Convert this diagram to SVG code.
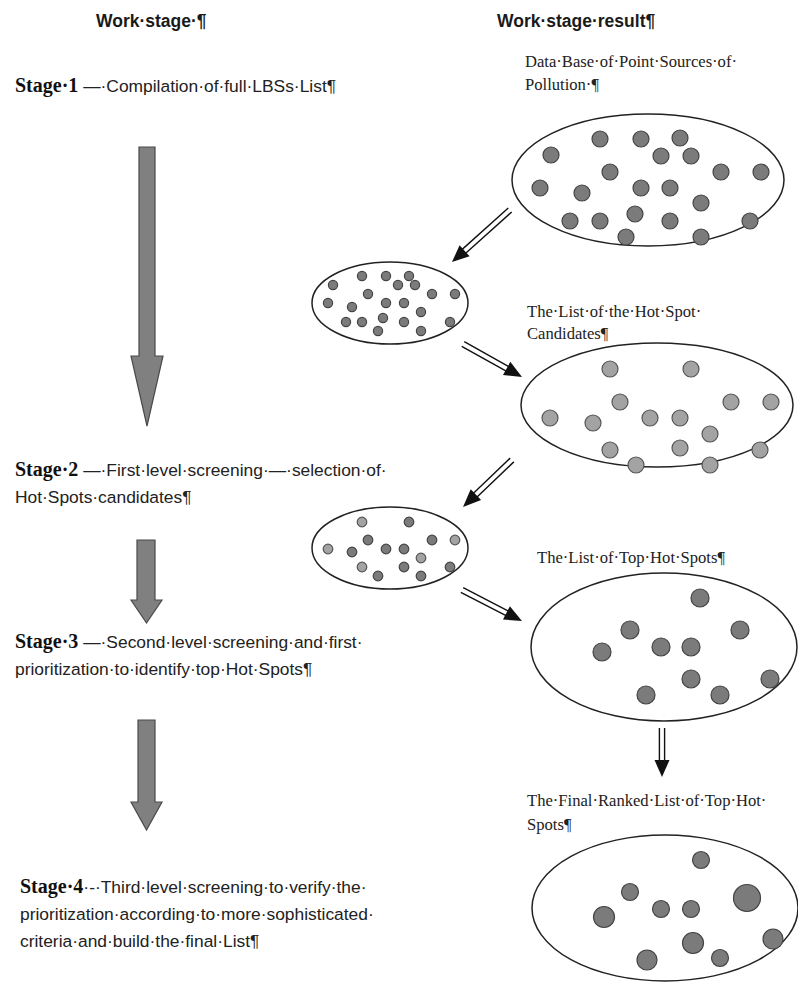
<svg xmlns="http://www.w3.org/2000/svg" width="798" height="983" viewBox="0 0 798 983">
<style>
.h{font-family:"Liberation Sans",Arial,sans-serif;font-weight:bold;font-size:17.5px;fill:#1a1a1a}
.t{font-family:"Liberation Sans",Arial,sans-serif;font-size:17.4px;fill:#222}
.b{font-family:"Liberation Serif","Times New Roman",serif;font-weight:bold;font-size:20px;fill:#111}
.r{font-family:"Liberation Serif","Times New Roman",serif;font-size:16.6px;fill:#222}
.ell{fill:#fff;stroke:#222;stroke-width:1.5}
.d1{fill:#7b7b7b;stroke:#444;stroke-width:1.2}
.d2{fill:#a3a3a3;stroke:#555;stroke-width:1.2}
.big{fill:#808080;stroke:#4a4a4a;stroke-width:1.2}
.dl{stroke:#111;stroke-width:1.4;fill:none}
.hd{fill:#111}
</style>
<rect width="798" height="983" fill="#fff"/>

<g id="headers">
<text class="h" x="96" y="27">Work·stage·¶</text>
<text class="h" x="497" y="27">Work·stage·result¶</text>
</g>

<g id="stage1"><text x="15" y="92"><tspan class="b">Stage·1</tspan><tspan class="t"> —·Compilation·of·full·LBSs·List¶</tspan></text></g>
<g id="stage2">
<text x="15" y="476"><tspan class="b">Stage·2</tspan><tspan class="t"> —·First·level·screening·—·selection·of·</tspan></text>
<text class="t" x="15" y="503">Hot·Spots·candidates¶</text>
</g>
<g id="stage3">
<text x="15" y="648"><tspan class="b">Stage·3</tspan><tspan class="t"> —·Second·level·screening·and·first·</tspan></text>
<text class="t" x="15" y="675">prioritization·to·identify·top·Hot·Spots¶</text>
</g>
<g id="stage4">
<text x="20" y="893"><tspan class="b">Stage·4</tspan><tspan class="t">·-·Third·level·screening·to·verify·the·</tspan></text>
<text class="t" x="20" y="920">prioritization·according·to·more·sophisticated·</text>
<text class="t" x="20" y="947">criteria·and·build·the·final·List¶</text>
</g>

<g id="connectors">
<polygon class="big" points="139,147 155,147 155,356 163,356 147,426 131,356 139,356"/>
<polygon class="big" points="137,540 155,540 155,600 162,600 146.5,623 131,600 137,600"/>
<polygon class="big" points="138,720 155,720 155,802 162,802 146.5,830 131,802 138,802"/>
<g transform="translate(510,210) rotate(138.1)"><path class="dl" d="M0,-2.6H63M0,2.6H63"/><polygon class="hd" points="61,-7.5 77.9,0 61,7.5"/></g>
<g transform="translate(463,344) rotate(29.2)"><path class="dl" d="M0,-2.6H52M0,2.6H52"/><polygon class="hd" points="50,-7.5 67.6,0 50,7.5"/></g>
<g transform="translate(512,460) rotate(136.2)"><path class="dl" d="M0,-2.6H52M0,2.6H52"/><polygon class="hd" points="50,-7.5 67.9,0 50,7.5"/></g>
<g transform="translate(462,590) rotate(27.3)"><path class="dl" d="M0,-2.6H52M0,2.6H52"/><polygon class="hd" points="50,-7.5 67.5,0 50,7.5"/></g>
<g transform="translate(662,728) rotate(90)"><path class="dl" d="M0,-2.6H34M0,2.6H34"/><polygon class="hd" points="32,-7.5 49,0 32,7.5"/></g>
</g>

<g id="result1">
<text class="r" x="525" y="67">Data·Base·of·Point·Sources·of·</text>
<text class="r" x="525" y="90">Pollution·¶</text>
<ellipse class="ell" cx="648" cy="180" rx="136" ry="66"/>
<g class="d1">
<circle cx="600" cy="139" r="8"/><circle cx="641" cy="139" r="8"/><circle cx="680" cy="138" r="8"/>
<circle cx="551" cy="155" r="8"/><circle cx="661" cy="156" r="8"/><circle cx="691" cy="156" r="8"/>
<circle cx="610" cy="172" r="8"/><circle cx="721" cy="172" r="8"/><circle cx="761" cy="172" r="8"/>
<circle cx="540" cy="188" r="8"/><circle cx="582" cy="193" r="8"/><circle cx="641" cy="188" r="8"/>
<circle cx="670" cy="188" r="8"/><circle cx="701" cy="203" r="8"/><circle cx="570" cy="221" r="8"/>
<circle cx="600" cy="221" r="8"/><circle cx="635" cy="214" r="8"/><circle cx="670" cy="221" r="8"/>
<circle cx="750" cy="221" r="8"/><circle cx="626" cy="237" r="8"/><circle cx="701" cy="237" r="8"/>
</g>
</g>

<g id="sample1">
<ellipse class="ell" cx="390" cy="303" rx="78" ry="41"/>
<g class="d1">
<circle cx="333" cy="285" r="4.6"/><circle cx="362" cy="276" r="4.6"/><circle cx="386" cy="276" r="4.6"/>
<circle cx="409" cy="276" r="4.6"/><circle cx="398" cy="285" r="4.6"/><circle cx="415" cy="285" r="4.6"/>
<circle cx="368" cy="294" r="4.6"/><circle cx="432" cy="294" r="4.6"/><circle cx="455" cy="294" r="4.6"/>
<circle cx="328" cy="303" r="4.6"/><circle cx="352" cy="307" r="4.6"/><circle cx="386" cy="303" r="4.6"/>
<circle cx="404" cy="303" r="4.6"/><circle cx="421" cy="312" r="4.6"/><circle cx="346" cy="322" r="4.6"/>
<circle cx="362" cy="322" r="4.6"/><circle cx="383" cy="318" r="4.6"/><circle cx="404" cy="322" r="4.6"/>
<circle cx="450" cy="322" r="4.6"/><circle cx="378" cy="331" r="4.6"/><circle cx="421" cy="331" r="4.6"/>
</g>
</g>

<g id="result2">
<text class="r" x="527" y="317">The·List·of·the·Hot·Spot·</text>
<text class="r" x="527" y="339">Candidates¶</text>
<ellipse class="ell" cx="657" cy="405" rx="136" ry="62"/>
<g class="d2">
<circle cx="610" cy="369" r="8"/><circle cx="691" cy="369" r="8"/><circle cx="620" cy="402" r="8"/>
<circle cx="731" cy="402" r="8"/><circle cx="771" cy="402" r="8"/><circle cx="550" cy="418" r="8"/>
<circle cx="593" cy="423" r="8"/><circle cx="650" cy="418" r="8"/><circle cx="680" cy="418" r="8"/>
<circle cx="710" cy="434" r="8"/><circle cx="610" cy="450" r="8"/><circle cx="680" cy="448" r="8"/>
<circle cx="760" cy="450" r="8"/><circle cx="636" cy="465" r="8"/><circle cx="710" cy="465" r="8"/>
</g>
</g>

<g id="sample2">
<ellipse class="ell" cx="390" cy="548" rx="78" ry="41"/>
<g class="d2">
<circle cx="362" cy="522" r="4.8"/><circle cx="455" cy="540" r="4.8"/><circle cx="328" cy="549" r="4.8"/>
<circle cx="421" cy="558" r="4.8"/><circle cx="362" cy="567" r="4.8"/>
</g>
<g class="d1">
<circle cx="409" cy="522" r="4.8"/><circle cx="368" cy="540" r="4.8"/><circle cx="432" cy="540" r="4.8"/>
<circle cx="352" cy="552" r="4.8"/><circle cx="386" cy="549" r="4.8"/><circle cx="404" cy="549" r="4.8"/>
<circle cx="404" cy="567" r="4.8"/><circle cx="450" cy="567" r="4.8"/><circle cx="378" cy="576" r="4.8"/>
<circle cx="421" cy="576" r="4.8"/>
</g>
</g>

<g id="result3">
<text class="r" x="537" y="563">The·List·of·Top·Hot·Spots¶</text>
<ellipse class="ell" cx="664" cy="647" rx="133" ry="74"/>
<g class="d1">
<circle cx="700" cy="598" r="9"/><circle cx="630" cy="630" r="9"/><circle cx="740" cy="630" r="9"/>
<circle cx="602" cy="652" r="9"/><circle cx="661" cy="647" r="9"/><circle cx="691" cy="647" r="9"/>
<circle cx="691" cy="679" r="9"/><circle cx="770" cy="679" r="9"/><circle cx="646" cy="695" r="9"/>
<circle cx="720" cy="695" r="9"/>
</g>
</g>

<g id="result4">
<text class="r" x="527" y="806">The·Final·Ranked·List·of·Top·Hot·</text>
<text class="r" x="527" y="830">Spots¶</text>
<ellipse class="ell" cx="665" cy="908" rx="133" ry="73"/>
<g class="d1">
<circle cx="701" cy="860" r="8.5"/><circle cx="630" cy="892" r="8.5"/><circle cx="747" cy="898" r="13.5"/>
<circle cx="604" cy="917" r="10.5"/><circle cx="661" cy="909" r="8.5"/><circle cx="691" cy="909" r="8.5"/>
<circle cx="693" cy="943" r="10.5"/><circle cx="773" cy="939" r="10"/><circle cx="647" cy="960" r="10"/>
<circle cx="720" cy="958" r="8.5"/>
</g>
</g>
</svg>
